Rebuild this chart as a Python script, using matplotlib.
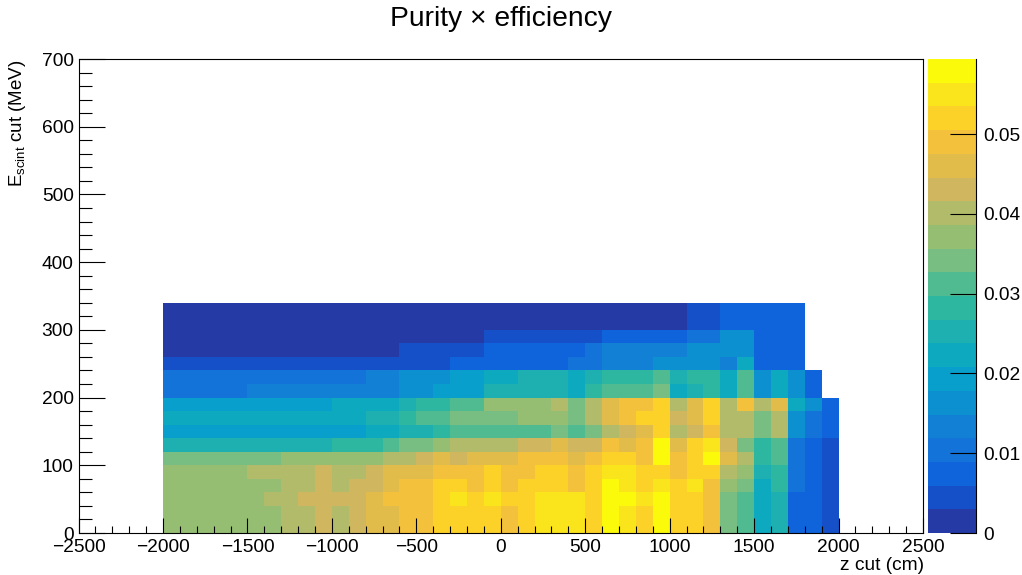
import numpy as np
import matplotlib
matplotlib.use('Agg')
import matplotlib.pyplot as plt
from matplotlib.colors import ListedColormap, BoundaryNorm

plt.rcParams['font.family'] = ['Liberation Sans', 'DejaVu Sans']
plt.rcParams['mathtext.fontset'] = 'custom'
plt.rcParams['mathtext.rm'] = 'Liberation Sans'

# bin edges of the histogram
z_edges = list(range(-2000, 2001, 100))
e_edges = list(range(0, 341, 20))

# purity x efficiency in units of 1e-3, one row per Escint bin from the bottom, 0 = empty
row_000 = [37,37,37,37,37,37,37,40,40,43,40,43,46,46,49,49,52,52,52,52,49,52,55,55,55,52,58,55,52,58,52,52,49,34,31,22,25,7,7,4]
row_020 = [37,37,37,37,37,37,37,40,40,43,40,43,46,46,49,49,52,52,52,52,49,52,55,55,55,52,58,55,52,58,52,52,49,34,31,22,25,7,7,4]
row_040 = [37,37,37,37,37,37,40,40,43,43,43,43,46,49,49,49,52,55,52,55,52,52,55,55,55,52,58,58,55,58,52,52,49,34,31,22,25,7,7,4]
row_060 = [37,37,37,37,37,37,37,40,40,43,40,43,43,46,49,49,52,52,49,52,49,52,52,52,49,52,58,55,52,55,52,55,49,37,34,22,28,10,7,4]
row_080 = [37,37,37,37,37,40,40,40,40,43,40,40,43,46,46,46,49,49,49,52,49,49,52,52,49,52,55,55,52,52,49,52,52,40,37,25,28,10,7,4]
row_100 = [34,34,34,34,34,34,34,37,37,37,37,37,37,40,40,43,46,43,46,46,46,49,49,49,46,49,52,52,49,58,49,52,58,46,40,28,31,10,7,4]
row_120 = [25,25,25,25,25,25,25,25,25,25,28,28,28,31,34,34,37,40,40,40,40,43,43,46,43,43,49,46,49,58,46,52,55,43,34,28,31,10,7,4]
row_140 = [19,19,19,19,19,19,19,19,19,19,19,19,22,22,25,25,28,31,31,31,31,31,31,34,31,34,40,43,46,52,40,43,49,40,40,34,40,16,10,7]
row_160 = [22,22,22,22,22,22,22,22,22,22,22,22,25,25,28,31,31,34,34,34,34,37,37,37,34,40,46,49,52,52,43,46,52,40,40,34,40,16,10,7]
row_180 = [19,19,19,19,19,19,19,19,19,19,22,22,22,22,25,28,28,31,31,37,37,37,37,40,34,40,46,49,49,52,40,46,52,40,49,40,46,22,16,7]
row_200 = [10,10,10,10,10,13,13,13,13,13,13,13,13,13,16,16,19,19,19,25,25,25,25,25,22,28,31,31,31,34,22,25,28,22,31,16,22,16,7,0]
row_220 = [10,10,10,10,10,10,10,10,10,10,10,10,13,13,16,16,16,19,19,22,22,25,25,25,22,25,28,28,28,31,25,28,28,22,31,16,22,16,7,0]
row_240 = [4,4,4,4,4,4,4,4,4,4,4,4,4,4,4,4,4,7,7,7,7,7,7,7,10,10,13,13,13,16,16,16,16,13,22,7,7,7,0,0]
row_260 = [1,1,1,1,1,1,1,1,1,1,1,1,1,1,4,4,4,4,4,7,7,7,7,7,7,10,13,13,13,13,13,16,16,16,16,7,7,7,0,0]
row_280 = [1,1,1,1,1,1,1,1,1,1,1,1,1,1,1,1,1,1,1,4,4,4,4,4,4,4,7,7,7,7,7,10,10,16,16,7,7,7,0,0]
row_300 = [1,1,1,1,1,1,1,1,1,1,1,1,1,1,1,1,1,1,1,1,1,1,1,1,1,1,1,1,1,1,1,4,4,7,7,7,7,7,0,0]
row_320 = [1,1,1,1,1,1,1,1,1,1,1,1,1,1,1,1,1,1,1,1,1,1,1,1,1,1,1,1,1,1,1,4,4,7,7,7,7,7,0,0]

rows = [row_000, row_020, row_040, row_060, row_080, row_100, row_120, row_140, row_160,
        row_180, row_200, row_220, row_240, row_260, row_280, row_300, row_320]

z_max = 0.0594
n_levels = 20
palette = ['#263aa6', '#1650c8', '#0f64dc', '#1473d8', '#1280d4', '#0d90d0',
           '#089fcd', '#0daabf', '#1eafb0', '#2db6a0', '#50bb91', '#78be82',
           '#96be73', '#b2bb69', '#d0b75f', '#e1bc4b', '#f3c13c', '#fdd228',
           '#fae41c', '#fafa0a']

cmap = ListedColormap(palette)
cmap.set_bad('white')
levels = np.linspace(0, z_max, n_levels + 1)
norm = BoundaryNorm(levels, n_levels)

values = np.ma.masked_equal(np.array(rows, dtype=float), 0) / 1000

fig = plt.figure(figsize=(10.22, 5.75), dpi=100)
W, H = 1022, 575
ax = fig.add_axes([78.5 / W, 1 - 533 / H, (923 - 78.5) / W, (533 - 59) / H])
cax = fig.add_axes([928 / W, 1 - 533 / H, 48 / W, (533 - 59) / H])

mesh = ax.pcolormesh(z_edges, e_edges, values, cmap=cmap, norm=norm, linewidth=0, rasterized=True)
ax.set_xlim(-2500, 2500)
ax.set_ylim(0, 700)
ax.set_xticks(range(-2500, 2501, 500))
ax.set_xticklabels([str(t).replace('-', '\u2212') for t in range(-2500, 2501, 500)])
ax.set_xticks(range(-2500, 2501, 100), minor=True)
ax.set_yticks(range(0, 701, 100))
ax.set_yticks(range(0, 701, 20), minor=True)
ax.tick_params(axis='x', which='major', direction='in', length=10.5, width=0.8, labelsize=13.8, pad=4)
ax.tick_params(axis='x', which='minor', direction='in', length=5.2, width=0.8)
ax.tick_params(axis='y', which='major', direction='in', length=19, width=0.8, labelsize=13.8, pad=3.5)
ax.tick_params(axis='y', which='minor', direction='in', length=9.5, width=0.8)
for s in ax.spines.values():
    s.set_linewidth(0.8)

fig.text(924 / W, 1 - 566 / H, 'z cut (cm)', ha='right', va='center', fontsize=13.8)
fig.text(18 / W, 1 - 59 / H, r'E$_{\mathrm{scint}}$ cut (MeV)', rotation=90, ha='center', va='top', fontsize=13.5)
fig.text(501 / W, 1 - 19 / H, 'Purity \u00d7 efficiency', ha='center', va='center', fontsize=20.3)

cax.imshow(np.arange(n_levels)[:, None], origin='lower', aspect='auto', cmap=cmap,
           extent=[0, 1, 0, z_max], interpolation='nearest')
cax.set_xticks([])
cax.yaxis.tick_right()
cax.set_yticks([0, 0.01, 0.02, 0.03, 0.04, 0.05])
cax.set_yticklabels(['0', '0.01', '0.02', '0.03', '0.04', '0.05'])
cax.tick_params(axis='y', direction='in', length=19, width=0.8, labelsize=13.8, pad=5)
cax.spines['top'].set_visible(False)
cax.spines['left'].set_visible(False)
cax.spines['bottom'].set_visible(False)
cax.spines['right'].set_linewidth(0.8)

fig.savefig('out.png', dpi=100)
